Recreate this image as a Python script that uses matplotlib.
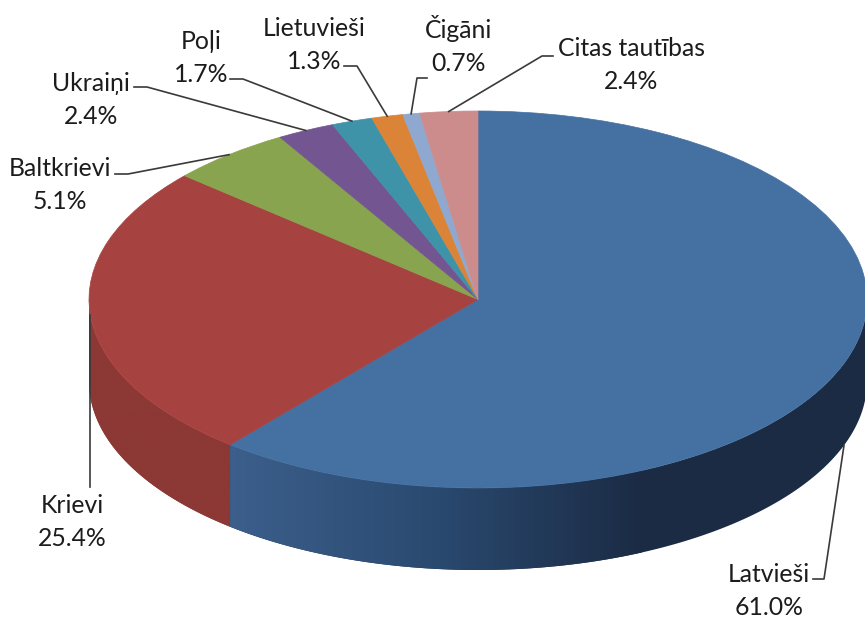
#!/usr/bin/env python3
# Latvia population by ethnicity, pseudo-3D pie
import numpy as np
import matplotlib
matplotlib.use('Agg')
import matplotlib.pyplot as plt
from matplotlib.colors import LinearSegmentedColormap
from matplotlib.patches import Polygon

names = ['Latvieši', 'Krievi', 'Baltkrievi', 'Ukraiņi', 'Poļi', 'Lietuvieši', 'Čigāni', 'Citas tautības']
values = [61.0, 25.4, 5.1, 2.4, 1.7, 1.3, 0.7, 2.4]
colors = ['#4470A2', '#A64341', '#88A44E', '#735591', '#3F93A9', '#DB8438', '#8FA8CF', '#CC8C8C']

# layout, in pixels of the picture
W, H = 865, 617
cx, cy = 478, 299.5
rx, ry = 389, 188.5
depth = 82 / ry
label_pos = [(769, 591), (72, 522), (60, 185), (91, 100), (201, 58), (314, 45), (459, 45), (631, 65)]
elbows = [
	[(813, 579), (824, 579)],
	[],
	[(115, 174), (128, 174)],
	[(134, 87), (147, 87)],
	[(230, 79), (243, 79)],
	[(344, 66), (357, 66)],
	[(427, 78), (417, 78)],
	[(553, 56), (542, 56)],
]

plt.rcParams['font.family'] = ['Lato', 'DejaVu Sans']

fig = plt.figure(figsize=(W / 100, H / 100), dpi=100)
ax = fig.add_axes([0, 0, 1, 1])


def to_data(px, py):
	return (px - cx) / rx, (cy - py) / ry


def wall(a0, a1, shades, x0, x1):
	# side of the disc between two clock angles: gradient image clipped to its outline
	t = np.radians(np.linspace(a0, a1, 200))
	x = np.sin(t)
	y = np.cos(t)
	outline = np.column_stack([np.r_[x, x[::-1]], np.r_[y, y[::-1] - depth]])
	cmap = LinearSegmentedColormap.from_list('wall', shades)
	grad = np.linspace(0, 1, 256).reshape(1, -1)
	im = ax.imshow(grad, cmap=cmap, extent=(x0, x1, y.min() - depth, y.max()), aspect='auto', zorder=1)
	# past x1 the wall keeps the last shade
	ax.add_patch(Polygon(outline, closed=True, facecolor=shades[-1], edgecolor='none', zorder=0.5))
	im.set_clip_path(Polygon(outline, closed=True, transform=ax.transData))


wedges, _ = ax.pie(values, colors=colors, startangle=90, counterclock=False, radius=1,
	wedgeprops={'zorder': 2})
for w in wedges:
	w.set_edgecolor(w.get_facecolor())
	w.set_linewidth(0.5)

cum = np.cumsum([0] + values)
split = cum[1] * 3.6
wall(90, split, ['#3C5F8C', '#2A4A70', '#1B2B44'], -0.65, 0.42)
wall(split, 270, ['#8C3835', '#8C3835'], -1.01, -0.6)

ax.set_aspect('auto')
ax.set_xlim(to_data(0, 0)[0], to_data(W, 0)[0])
ax.set_ylim(to_data(0, H)[1], to_data(0, 0)[1])
ax.axis('off')

for i, name in enumerate(names):
	x, y = to_data(*label_pos[i])
	ax.text(x, y, name + '\n' + '%.1f%%' % values[i], ha='center', va='center', fontsize=17.8,
		color='#1c1c1c', linespacing=1.5, zorder=5)
	mid = np.radians((cum[i] + cum[i + 1]) / 2 * 3.6)
	ex, ey = np.sin(mid), np.cos(mid)
	if i == 0:
		ey -= depth
	if i == 1:
		pts = [(ex, ey), (ex, to_data(0, 487)[1])]
	else:
		pts = [to_data(*p) for p in elbows[i]] + [(ex, ey)]
	ax.plot([p[0] for p in pts], [p[1] for p in pts], color='#3a3a3a', linewidth=1.2, zorder=4)

fig.savefig('out.png', dpi=100)
